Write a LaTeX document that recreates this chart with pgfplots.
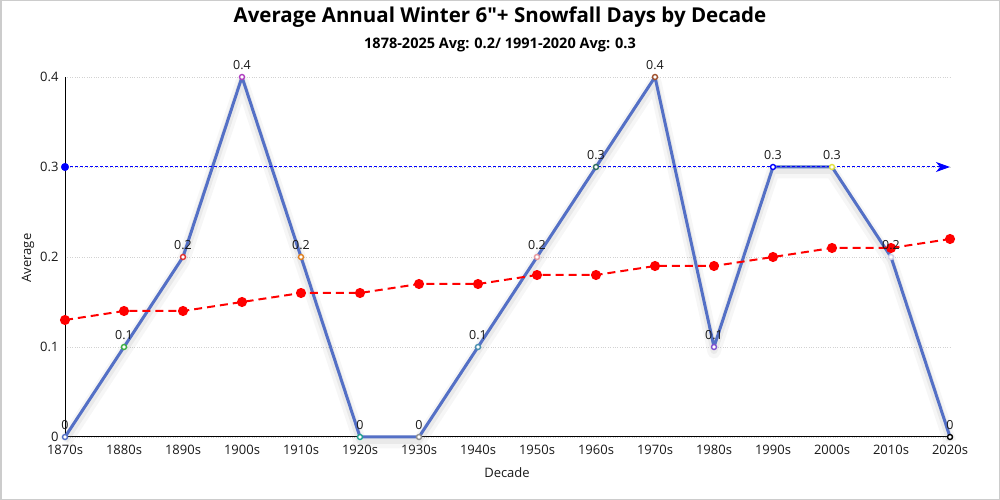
\documentclass[border=0pt]{standalone}
\usepackage{fontspec}
\setmainfont{Open Sans}[Ligatures=TeXOff]
\usepackage{pgfplots}
\usepackage{pgfplotstable}
\pgfplotsset{compat=1.18}
\usetikzlibrary{arrows.meta}

\definecolor{mainline}{RGB}{84,112,198}
\definecolor{ca}{RGB}{84,112,198}
\definecolor{cb}{RGB}{60,176,67}
\definecolor{cc}{RGB}{224,48,48}
\definecolor{cd}{RGB}{176,64,192}
\definecolor{ce}{RGB}{224,128,32}
\definecolor{cf}{RGB}{32,160,144}
\definecolor{cg}{RGB}{144,144,144}
\definecolor{ch}{RGB}{74,144,176}
\definecolor{ci}{RGB}{232,154,160}
\definecolor{cj}{RGB}{47,111,95}
\definecolor{ck}{RGB}{160,82,45}
\definecolor{cl}{RGB}{128,80,208}
\definecolor{cm}{RGB}{0,0,255}
\definecolor{cn}{RGB}{224,224,64}
\definecolor{co}{RGB}{208,208,232}
\definecolor{cp}{RGB}{0,0,0}
\definecolor{txt}{RGB}{25,25,25}

% decade index, average days, marker class
\pgfplotstableread{
x y c
0 0 a
1 0.1 b
2 0.2 c
3 0.4 d
4 0.2 e
5 0 f
6 0 g
7 0.1 h
8 0.2 i
9 0.3 j
10 0.4 k
11 0.1 l
12 0.3 m
13 0.3 n
14 0.2 o
15 0 p
}\avgdata

% trend line
\pgfplotstableread{
x y
0 0.13
1 0.14
2 0.14
3 0.15
4 0.16
5 0.16
6 0.17
7 0.17
8 0.18
9 0.18
10 0.19
11 0.19
12 0.20
13 0.21
14 0.21
15 0.22
}\trenddata

\begin{document}
\begin{tikzpicture}
  \draw[line width=1.5bp, gray!40] (0.75bp,0.75bp) rectangle (999.25bp,499.25bp);
  \node[font=\fontsize{20.5bp}{24bp}\selectfont\bfseries] at (500bp,483bp) {Average Annual Winter 6"+ Snowfall Days by Decade};
  \node[font=\fontsize{14.5bp}{17bp}\selectfont\bfseries] at (500bp,455bp) {1878-2025 Avg: 0.2/ 1991-2020 Avg: 0.3};
  \node[font=\fontsize{13bp}{15bp}\selectfont, text=txt] at (507bp,27bp) {Decade};
  \node[font=\fontsize{13bp}{15bp}\selectfont, text=txt, rotate=90] at (28bp,242bp) {Average};
  \begin{axis}[
      at={(65bp,63bp)},
      anchor=south west,
      scale only axis,
      width=885bp,
      height=360bp,
      xmin=0, xmax=15,
      ymin=0, ymax=0.4,
      axis lines=left,
      axis line style={-, black, line width=1bp},
      xtick={0,...,15},
      xticklabels={1870s,1880s,1890s,1900s,1910s,1920s,1930s,1940s,1950s,1960s,1970s,1980s,1990s,2000s,2010s,2020s},
      ytick={0,0.1,0.2,0.3,0.4},
      major tick length=0pt,
      ymajorgrids=true,
      grid style={dotted, gray!35, line width=0.5bp},
      tick label style={font=\fontsize{13bp}{15bp}\selectfont, text=txt},
      xticklabel style={yshift=-5bp},
      yticklabel style={xshift=-3bp},
      /pgf/number format/assume math mode=true,
      clip=false,
    ]
    % soft shadow under the main line
    \addplot[gray, opacity=0.07, line width=13bp, shift={(0,-5bp)}, line join=round] table[x=x, y=y] {\avgdata};
    \addplot[gray, opacity=0.11, line width=7bp, shift={(0,-3.5bp)}, line join=round] table[x=x, y=y] {\avgdata};
    \addplot[mainline, line width=3bp, line join=round, no marks] table[x=x, y=y] {\avgdata};
    \addplot[scatter, only marks, mark=*, mark size=2.5bp,
      point meta=explicit symbolic,
      mark options={line width=1.4bp, fill=white},
      scatter/classes={
        a={draw=ca, fill=white}, b={draw=cb, fill=white}, c={draw=cc, fill=white},
        d={draw=cd, fill=white}, e={draw=ce, fill=white}, f={draw=cf, fill=white},
        g={draw=cg, fill=white}, h={draw=ch, fill=white}, i={draw=ci, fill=white},
        j={draw=cj, fill=white}, k={draw=ck, fill=white}, l={draw=cl, fill=white},
        m={draw=cm, fill=white}, n={draw=cn, fill=white}, o={draw=co, fill=white},
        p={draw=cp, fill=white}}
      ] table[x=x, y=y, meta=c] {\avgdata};
    % 1991-2020 average
    \addplot[blue, densely dashed, line width=1bp, -{Stealth[length=14bp, width=10bp, inset=4bp]}] coordinates {(0,0.3) (15,0.3)};
    \addplot[blue, only marks, mark=*, mark size=3.8bp] coordinates {(0,0.3)};
    % trend
    \addplot[red, dashed, dash pattern=on 8bp off 5bp, line width=2bp, mark=*, mark size=4bp, mark options={solid}] table[x=x, y=y] {\trenddata};
    % value labels
    \addplot[draw=none, no marks, nodes near coords, point meta=y,
      nodes near coords style={font=\fontsize{12.5bp}{14bp}\selectfont, text=txt, anchor=south, yshift=3.5bp}
      ] table[x=x, y=y] {\avgdata};
  \end{axis}
\end{tikzpicture}
\end{document}
